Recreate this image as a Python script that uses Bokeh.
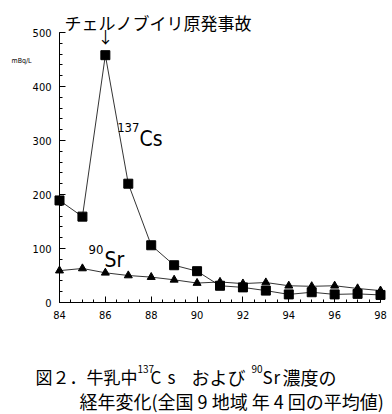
from bokeh.plotting import figure
from bokeh.models import Range1d, SingleIntervalTicker, Label
from bokeh.embed import file_html
from bokeh.resources import INLINE

years = [84, 85, 86, 87, 88, 89, 90, 91, 92, 93, 94, 95, 96, 97, 98]
cs137 = [189, 159, 458, 220, 106, 69, 58, 31, 28, 22, 15, 19, 15, 16, 14]
sr90 = [59, 63, 55, 50, 47, 42, 36, 38, 35, 37, 31, 30, 31, 26, 22]
x_ticks = [84, 86, 88, 90, 92, 94, 96, 98]
y_ticks = [0, 100, 200, 300, 400, 500]

W, H = 392, 414
JP = "'Noto Sans CJK JP', sans-serif"
NARROW = "'Liberation Sans Narrow', 'DejaVu Sans Condensed', sans-serif"

# pixel placement of the axes box (picture coordinates)
AX_LEFT, AX_RIGHT, AX_TOP, AX_BOTTOM = 59, 380, 32, 302
PXX = (AX_RIGHT - AX_LEFT) / (x_ticks[-1] - x_ticks[0])
PXY = (AX_BOTTOM - AX_TOP) / (y_ticks[-1] - y_ticks[0])


def dx(px):
    return x_ticks[0] + (px - AX_LEFT) / PXX


def dy(py):
    return y_ticks[0] + (AX_BOTTOM - py) / PXY


p = figure(width=W, height=H, output_backend="svg", toolbar_location=None,
           x_range=Range1d(dx(0), dx(W)), y_range=Range1d(dy(H), dy(0)),
           min_border=0, min_border_left=0, min_border_right=0,
           min_border_top=0, min_border_bottom=0)
p.outline_line_color = None
p.xgrid.visible = False
p.ygrid.visible = False

xa, ya = p.xaxis[0], p.yaxis[0]
for ax in (xa, ya):
    ax.axis_line_color = "black"
    ax.axis_line_width = 1
    ax.major_tick_line_color = "black"
    ax.minor_tick_line_color = "black"
    ax.major_tick_out = 0
    ax.minor_tick_out = 0
    ax.major_tick_in = 6
    ax.minor_tick_in = 3
    ax.major_label_text_font = NARROW
    ax.major_label_text_font_size = "11px"
    ax.major_label_text_color = "black"
    ax.major_label_standoff = 8

xa.ticker = SingleIntervalTicker(interval=2, num_minor_ticks=4)
ya.ticker = SingleIntervalTicker(interval=100, num_minor_ticks=5)
xa.bounds = (x_ticks[0], x_ticks[-1])
ya.bounds = (y_ticks[0], y_ticks[-1])
xa.fixed_location = y_ticks[0]
ya.fixed_location = x_ticks[0]
xa.major_label_overrides = {v: str(v) for v in x_ticks}
ya.major_label_overrides = {v: str(v) for v in y_ticks}

p.line(years, cs137, line_color="black", line_width=0.8)
p.scatter(years, cs137, marker="square", size=9, color="black")
p.line(years, sr90, line_color="black", line_width=0.8)
p.scatter(years, sr90, marker="triangle", size=8, color="black")


def lab(text, px, py, size, font=JP, align="left", baseline="alphabetic"):
    p.add_layout(Label(x=dx(px), y=dy(py), text=text, text_font=font,
                       text_font_size=f"{size}px", text_color="black",
                       text_align=align, text_baseline=baseline))


lab("チェルノブイリ原発事故", 64, 22, 17)
lab("↓", 105, 35, 16, align="center", baseline="middle")
lab("mBq/L", 11, 60, 7, font="'DejaVu Sans Condensed', sans-serif")

lab("137", 139, 127, 13, font=NARROW, align="right")
lab("Cs", 139, 138, 21, font=NARROW)
lab("90", 103, 249, 13, font=NARROW, align="right")
lab("Sr", 104, 259, 21, font=NARROW)

# caption
lab("図２．牛乳中", 35, 376, 17)
lab("137", 137, 368, 10)
lab("C", 150, 376, 17)
lab("s", 167, 376, 17)
lab("および", 191, 376, 18)
lab("90", 251, 368, 10)
lab("S", 262, 376, 17)
lab("r", 273, 376, 17)
lab("濃度の", 282, 376, 18)
lab("経年変化(全国 9 地域 年 4 回の平均値)", 79, 400, 18)

open("out.html", "w").write(file_html(p, INLINE))
